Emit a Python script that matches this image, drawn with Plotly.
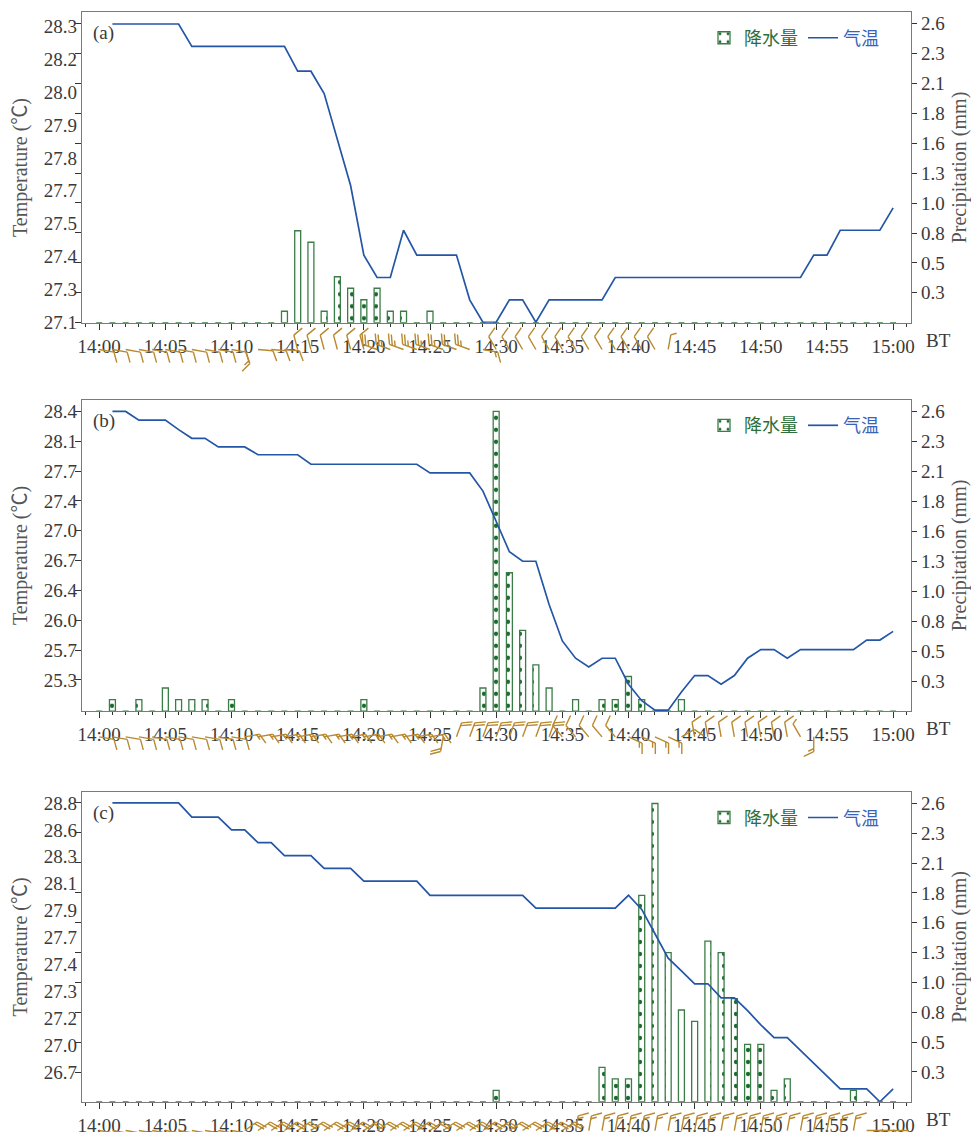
import numpy as np
import plotly.graph_objects as go

# ---------------- page geometry (px) ----------------
FIG_W, FIG_H = 971, 1142
M_L, M_R, M_T, M_B = 82, 60, 12, 0
PLOT_W = FIG_W - M_L - M_R
PLOT_H = FIG_H - M_T - M_B
X_RANGE = [-1.3, 61.35]
PX_PER_MIN = PLOT_W / (X_RANGE[1] - X_RANGE[0])

# top / bottom pixel rows of the three panels
PANEL_PX = [(12.3, 325.5), (403.3, 717.3), (799.0, 1111.5)]


def frac(py):
    """page pixel row -> paper fraction"""
    return (FIG_H - M_B - py) / PLOT_H


def fx(px):
    """page pixel column -> paper fraction"""
    return (px - M_L) / PLOT_W


# ---------------- data ----------------
minutes = list(range(0, 61))          # 14:00 ... 15:00
temp_minutes = list(range(1, 61))     # temperature record starts 14:01

x_tick_vals = [0, 5, 10, 15, 20, 25, 30, 35, 40, 45, 50, 55, 60]
x_tick_text = ["14:00", "14:05", "14:10", "14:15", "14:20", "14:25", "14:30",
               "14:35", "14:40", "14:45", "14:50", "14:55", "15:00"]

precip_tick_text = ["0.3", "0.5", "0.8", "1.0", "1.3", "1.6", "1.8", "2.1", "2.3", "2.6"]

temp_tick_text_a = ["28.3", "28.2", "28.0", "27.9", "27.8", "27.7", "27.5", "27.4", "27.3", "27.1"]
temp_tick_text_b = ["28.4", "28.1", "27.7", "27.4", "27.0", "26.7", "26.4", "26.0", "25.7", "25.3"]
temp_tick_text_c = ["28.8", "28.6", "28.3", "28.1", "27.9", "27.7", "27.4", "27.3", "27.2", "27.0", "26.7"]

# air temperature (deg C), 14:01-15:00
temp_a = [28.30, 28.30, 28.30, 28.30, 28.30, 28.30,
          28.21, 28.21, 28.21, 28.21, 28.21, 28.21, 28.21, 28.21,
          28.11, 28.11, 28.02, 27.84, 27.65, 27.37, 27.28, 27.28, 27.47,
          27.37, 27.37, 27.37, 27.37, 27.19, 27.10, 27.10, 27.19, 27.19, 27.10,
          27.19, 27.19, 27.19, 27.19, 27.19,
          27.28, 27.28, 27.28, 27.28, 27.28, 27.28, 27.28, 27.28, 27.28, 27.28,
          27.28, 27.28, 27.28, 27.28, 27.28,
          27.37, 27.37, 27.47, 27.47, 27.47, 27.47, 27.56]

temp_b = [28.40, 28.40, 28.30, 28.30, 28.30, 28.19, 28.09, 28.09,
          27.99, 27.99, 27.99, 27.90, 27.90, 27.90, 27.90,
          27.79, 27.79, 27.79, 27.79, 27.79, 27.79, 27.79, 27.79, 27.79,
          27.69, 27.69, 27.69, 27.69, 27.48, 27.12, 26.78, 26.67, 26.67,
          26.17, 25.75, 25.55, 25.45, 25.55, 25.55, 25.25, 25.06, 24.95, 24.95,
          25.16, 25.35, 25.35, 25.25, 25.35, 25.55, 25.65, 25.65, 25.55,
          25.65, 25.65, 25.65, 25.65, 25.65, 25.76, 25.76, 25.86]

temp_c = [28.80, 28.80, 28.80, 28.80, 28.80, 28.80,
          28.69, 28.69, 28.69, 28.59, 28.59, 28.49, 28.49,
          28.39, 28.39, 28.39, 28.29, 28.29, 28.29,
          28.19, 28.19, 28.19, 28.19, 28.19,
          28.08, 28.08, 28.08, 28.08, 28.08, 28.08, 28.08, 28.08,
          27.98, 27.98, 27.98, 27.98, 27.98, 27.98, 27.98,
          28.08, 27.97, 27.78, 27.59, 27.49, 27.39, 27.39, 27.28, 27.28,
          27.18, 27.07, 26.97, 26.97, 26.87, 26.77, 26.67,
          26.57, 26.57, 26.57, 26.47, 26.57]

# one-minute precipitation (mm), 14:00-15:00
precip_a = [0, 0, 0, 0, 0, 0, 0, 0, 0, 0, 0, 0, 0, 0, 0.1, 0.8, 0.7, 0.1, 0.4, 0.3,
            0.2, 0.3, 0.1, 0.1, 0, 0.1, 0, 0, 0, 0, 0, 0, 0, 0, 0, 0, 0, 0, 0, 0,
            0, 0, 0, 0, 0, 0, 0, 0, 0, 0, 0, 0, 0, 0, 0, 0, 0, 0, 0, 0, 0]
precip_b = [0, 0.1, 0, 0.1, 0, 0.2, 0.1, 0.1, 0.1, 0, 0.1, 0, 0, 0, 0, 0, 0, 0, 0, 0,
            0.1, 0, 0, 0, 0, 0, 0, 0, 0, 0.2, 2.6, 1.2, 0.7, 0.4, 0.2, 0, 0.1, 0, 0.1, 0.1,
            0.3, 0.1, 0, 0, 0.1, 0, 0, 0, 0, 0, 0, 0, 0, 0, 0, 0, 0, 0, 0, 0, 0]
precip_c = [0, 0, 0, 0, 0, 0, 0, 0, 0, 0, 0, 0, 0, 0, 0, 0, 0, 0, 0, 0,
            0, 0, 0, 0, 0, 0, 0, 0, 0, 0, 0.1, 0, 0, 0, 0, 0, 0, 0, 0.3, 0.2,
            0.2, 1.8, 2.6, 1.3, 0.8, 0.7, 1.4, 1.3, 0.9, 0.5, 0.5, 0.1, 0.2, 0, 0, 0, 0, 0.1, 0, 0, 0]

# wind at the surface station, 14:00-15:00: direction (deg) and speed (m/s)
wind_dir_a = [100, 100, 100, 100, 100, 100, 100, 100, 100, 100, 100, 160, 95, 95, 95,
              345, 345, 345, 345, 345, 345, 290, 290, 290, 290, 290, 290, 290, 290, 100,
              330, 330, 330, 330, 330, 330, 330, 330, 330, 330, 330, 330, 330, 10,
              0, 0, 0, 0, 0, 0, 0, 0, 0, 0, 0, 0, 0, 0, 0, 0, 0]
wind_spd_a = [4, 4, 4, 4, 4, 4, 4, 4, 4, 4, 4, 6, 4, 4, 4,
              4, 4, 4, 4, 4, 4, 10, 10, 10, 10, 10, 10, 10, 10, 6,
              4, 4, 4, 4, 4, 4, 4, 4, 4, 4, 4, 4, 4, 2,
              0, 0, 0, 0, 0, 0, 0, 0, 0, 0, 0, 0, 0, 0, 0, 0, 0]
wind_dir_b = [100, 100, 100, 100, 100, 100, 100, 100, 100, 100, 100,
              80, 80, 80, 80, 80, 80, 80, 80, 80, 80, 80, 80, 80, 80, 80,
              190, 20, 20, 20, 20, 20, 20, 20, 20, 320, 320, 320, 320, 320,
              115, 115, 115, 115, 60, 350, 350, 350, 350, 350, 350, 350, 350, 330, 180,
              0, 0, 0, 0, 0, 0]
wind_spd_b = [4, 4, 4, 4, 4, 4, 4, 4, 4, 4, 4,
              6, 6, 6, 6, 6, 6, 6, 6, 6, 6, 6, 6, 6, 6, 6,
              8, 8, 8, 8, 8, 8, 8, 8, 8, 4, 4, 4, 4, 4,
              6, 6, 6, 6, 4, 4, 4, 4, 4, 4, 4, 4, 4, 2, 6,
              0, 0, 0, 0, 0, 0]
wind_dir_c = [100, 100, 100, 100, 100, 100, 100, 100, 100, 100, 100,
              55, 55, 55, 55, 55, 55, 55, 55, 55, 55, 55, 55, 55, 55, 55,
              55, 55, 55, 55, 55, 55, 55, 55, 55, 55,
              10, 10, 10, 10, 10, 10, 10, 10, 10, 10, 10, 10, 10, 10, 10,
              10, 10, 10, 10, 10, 10, 10, 90, 90, 90]
wind_spd_c = [4, 4, 4, 4, 4, 4, 4, 4, 4, 4, 4,
              8, 8, 8, 8, 8, 8, 8, 8, 8, 8, 8, 8, 8, 8, 8,
              8, 8, 8, 8, 8, 8, 8, 8, 8, 8,
              6, 6, 6, 6, 6, 6, 6, 6, 6, 6, 6, 6, 6, 6, 6,
              6, 6, 6, 6, 6, 6, 6, 4, 4, 4]

panels = [
    dict(tag="(a)", temp=temp_a, precip=precip_a, wdir=wind_dir_a, wspd=wind_spd_a,
         t_range=[27.098, 28.347], t_labels=temp_tick_text_a,
         t_label_span=(28.29, 27.10), t_mark_span=(28.3, 27.1), n_marks=11),
    dict(tag="(b)", temp=temp_b, precip=precip_b, wdir=wind_dir_b, wspd=wind_spd_b,
         t_range=[24.94, 28.534], t_labels=temp_tick_text_b,
         t_label_span=(28.4, 25.3), t_mark_span=(28.4, 25.3), n_marks=10),
    dict(tag="(c)", temp=temp_c, precip=precip_c, wdir=wind_dir_c, wspd=wind_spd_c,
         t_range=[26.47, 28.885], t_labels=temp_tick_text_c,
         t_label_span=(28.8, 26.7), t_mark_span=(28.8, 26.7), n_marks=10),
]

# ---------------- styles ----------------
FONT = "Liberation Serif, Noto Sans CJK SC, serif"
AXIS_GREY = "#7a7a7a"
TEXT_GREY = "#3a3a3a"
BAR_GREEN = "#3b7d47"
DOT_GREEN = "#1a6a2d"
LINE_BLUE = "#2456a6"
BARB_BROWN = "#b8892f"
P_RANGE = [0, 2.70]

# wind-barb geometry (px)
SHAFT = 15.0
FEATHER = 11.0
FEATHER_STEP = 3.0
FEATHER_TURN = 65.0
STATION_OFFSET = [-27.0, -26.0, -29.0]
BARB_DEPTH = [64.0, 64.0, FIG_H - PANEL_PX[2][1]]


def barb_path(dirs, spds, y_station):
    xs, ys = [], []
    for m, (d, s) in enumerate(zip(dirs, spds)):
        if not s:
            continue
        th = np.radians(d)
        ux, uy = np.sin(th), np.cos(th)
        tx, ty = SHAFT * ux, y_station + SHAFT * uy
        xs += [m, m + tx / PX_PER_MIN, None]
        ys += [y_station, ty, None]
        fth = np.radians(d + FEATHER_TURN)
        fxu, fyu = np.sin(fth), np.cos(fth)
        n_full, half = int(s // 4), (s % 4) >= 2
        for k in range(n_full + (1 if half else 0)):
            length = FEATHER if k < n_full else FEATHER * 0.55
            px0 = tx - k * FEATHER_STEP * ux
            py0 = ty - k * FEATHER_STEP * uy
            xs += [m + px0 / PX_PER_MIN, m + (px0 + length * fxu) / PX_PER_MIN, None]
            ys += [py0, py0 + length * fyu, None]
    return xs, ys


fig = go.Figure()
layout = dict(
    width=FIG_W, height=FIG_H,
    margin=dict(l=M_L, r=M_R, t=M_T, b=M_B, pad=0),
    paper_bgcolor="white", plot_bgcolor="white",
    font=dict(family=FONT, size=18, color=TEXT_GREY),
    showlegend=True, barmode="overlay",
)
annotations = []

for i, p in enumerate(panels):
    top_px, bot_px = PANEL_PX[i]
    dom = [frac(bot_px), frac(top_px)]
    xn = "x" if i == 0 else f"x{i + 1}"
    yp = 3 * i + 1          # precipitation (right, base)
    yt = 3 * i + 2          # temperature (left, overlay)
    yw = 3 * i + 3          # wind barbs strip
    yp_n = "y" if yp == 1 else f"y{yp}"
    yt_n, yw_n = f"y{yt}", f"y{yw}"
    leg = "legend" if i == 0 else f"legend{i + 1}"

    fig.add_trace(go.Bar(
        x=minutes, y=p["precip"], width=0.45, name='<span style="color:#2d6e3a">降水量</span>',
        marker=dict(color="white", line=dict(color=BAR_GREEN, width=1.3),
                    pattern=dict(shape=".", fgcolor=DOT_GREEN, bgcolor="white",
                                 size=12, solidity=0.1, fgopacity=1)),
        xaxis=xn, yaxis=yp_n, legend=leg, hoverinfo="skip"))
    fig.add_trace(go.Scatter(
        x=temp_minutes, y=p["temp"], mode="lines", name='<span style="color:#3a63b8">气温</span>',
        line=dict(color=LINE_BLUE, width=1.7), xaxis=xn, yaxis=yt_n, legend=leg,
        hoverinfo="skip"))
    bx, by = barb_path(p["wdir"], p["wspd"], STATION_OFFSET[i])
    fig.add_trace(go.Scatter(
        x=bx, y=by, mode="lines", line=dict(color=BARB_BROWN, width=1.4),
        xaxis=xn, yaxis=yw_n, showlegend=False, hoverinfo="skip", cliponaxis=False))

    xkey = "xaxis" if i == 0 else f"xaxis{i + 1}"
    layout[xkey] = dict(
        domain=[0, 1], range=X_RANGE, anchor=yp_n,
        showline=True, linecolor=AXIS_GREY, linewidth=1.2, mirror=True,
        tickmode="array", tickvals=x_tick_vals, ticktext=x_tick_text,
        ticks="outside", ticklen=6, tickcolor="#333", tickwidth=1,
        minor=dict(tickmode="linear", tick0=0, dtick=1, ticks="outside", ticklen=3,
                   tickcolor="#333", showgrid=False),
        showgrid=False, zeroline=False, tickfont=dict(size=19, color=TEXT_GREY),
    )
    layout["yaxis" if yp == 1 else f"yaxis{yp}"] = dict(
        domain=dom, range=P_RANGE, anchor=xn, side="right",
        showline=True, linecolor=AXIS_GREY, linewidth=1.2,
        tickmode="array", tickvals=list(np.linspace(0.26, 2.6, 10)), ticktext=precip_tick_text,
        ticks="outside", ticklen=5, tickcolor="#333",
        showgrid=False, zeroline=False, tickfont=dict(size=19, color=TEXT_GREY),
        title=dict(text="Precipitation (mm)", font=dict(size=20, color="#555"), standoff=8),
    )
    n_lab = len(p["t_labels"])
    layout[f"yaxis{yt}"] = dict(
        domain=dom, range=p["t_range"], anchor=xn, overlaying=yp_n, side="left",
        showline=True, linecolor=AXIS_GREY, linewidth=1.2,
        tickmode="array", tickvals=list(np.linspace(*p["t_label_span"], n_lab)),
        ticktext=p["t_labels"], ticks="outside", ticklen=0,
        minor=dict(tickmode="array",
                   tickvals=list(np.linspace(*p["t_mark_span"], p["n_marks"])),
                   ticks="outside", ticklen=6, tickcolor="#333", showgrid=False),
        showgrid=False, zeroline=False, tickfont=dict(size=19, color=TEXT_GREY),
        title=dict(text="Temperature (℃)", font=dict(size=20, color="#555"), standoff=10),
    )
    depth = BARB_DEPTH[i]
    layout[f"yaxis{yw}"] = dict(
        domain=[frac(bot_px + depth), frac(bot_px)], range=[-depth, 0],
        anchor=xn, visible=False, showgrid=False, zeroline=False, fixedrange=True,
    )
    layout[leg] = dict(
        x=fx(884), xanchor="right", y=frac(top_px + 26), yanchor="middle",
        orientation="h", bgcolor="rgba(0,0,0,0)", font=dict(size=18),
        itemwidth=30, tracegroupgap=0,
    )
    annotations.append(dict(
        text=p["tag"], xref="paper", yref="paper", x=fx(91), y=frac(top_px + 21),
        xanchor="left", yanchor="middle", showarrow=False,
        font=dict(size=19, color=TEXT_GREY)))
    annotations.append(dict(
        text="BT", xref="paper", yref="paper", x=fx(924), y=frac(bot_px + 18),
        xanchor="left", yanchor="middle", showarrow=False,
        font=dict(size=19, color=TEXT_GREY)))

layout["annotations"] = annotations
fig.update_layout(**layout)
fig.write_html("out.html")
